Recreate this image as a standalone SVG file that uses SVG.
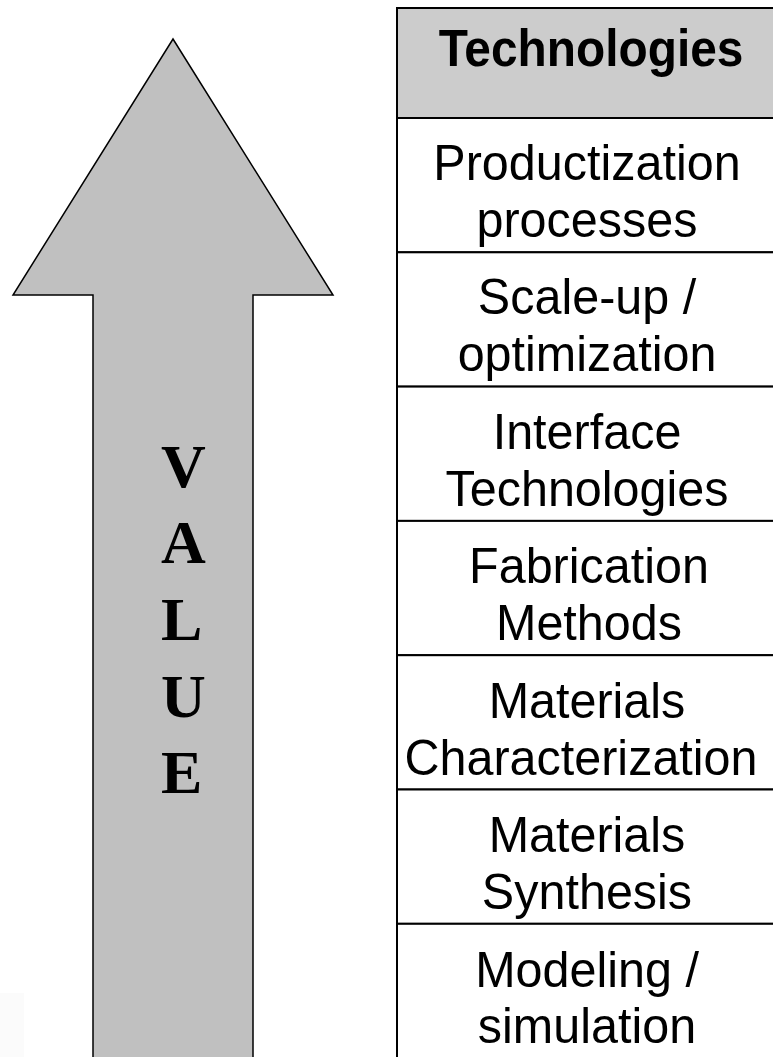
<svg xmlns="http://www.w3.org/2000/svg" width="773" height="1057" viewBox="0 0 773 1057">
  <style>
    .cell { fill: #ffffff; stroke: #000000; stroke-width: 2; }
    .head { fill: #cccccc; stroke: #000000; stroke-width: 2; }
    .lbl { font-family: "Liberation Sans", Arial, sans-serif; font-size: 50px; fill: #000000; text-anchor: middle; }
    .hdr { font-family: "Liberation Sans", Arial, sans-serif; font-size: 52px; font-weight: bold; fill: #000000; text-anchor: middle; }
    .val { font-family: "Liberation Serif", "Times New Roman", serif; font-size: 62px; font-weight: bold; fill: #000000; }
  </style>

  <rect width="773" height="1057" fill="#ffffff"/>
  <!-- faint patch in the lower-left corner -->
  <rect x="0" y="993" width="24" height="64" fill="#fbfbfb"/>

  <!-- upward VALUE arrow -->
  <g id="value-arrow">
    <polygon points="173,39 333,295 253,295 253,1062 93,1062 93,295 13,295" fill="#c0c0c0" stroke="#000000" stroke-width="1.5" stroke-linejoin="miter"/>
    <text class="val" x="161" y="487">V</text>
    <text class="val" x="161" y="563">A</text>
    <text class="val" x="161" y="640">L</text>
    <text class="val" x="161" y="717">U</text>
    <text class="val" x="161" y="793">E</text>
  </g>

  <!-- technology stack table; labels are narrowed slightly -->
  <g id="tech-header">
    <rect class="head" x="397" y="8" width="390" height="110"/>
    <text class="hdr" transform="translate(591,66) scale(0.92,1)">Technologies</text>
  </g>
  <g id="tech-productization">
    <rect class="cell" x="397" y="118" width="390" height="134.3"/>
    <text class="lbl" transform="translate(587,180) scale(0.97,1)">Productization</text>
    <text class="lbl" transform="translate(587,237) scale(0.97,1)">processes</text>
  </g>
  <g id="tech-scaleup">
    <rect class="cell" x="397" y="252.3" width="390" height="134.3"/>
    <text class="lbl" transform="translate(587,314) scale(0.97,1)">Scale-up /</text>
    <text class="lbl" transform="translate(587,371) scale(0.97,1)">optimization</text>
  </g>
  <g id="tech-interface">
    <rect class="cell" x="397" y="386.6" width="390" height="134.3"/>
    <text class="lbl" transform="translate(587,449) scale(0.97,1)">Interface</text>
    <text class="lbl" transform="translate(587,506) scale(0.97,1)">Technologies</text>
  </g>
  <g id="tech-fabrication">
    <rect class="cell" x="397" y="520.9" width="390" height="134.3"/>
    <text class="lbl" transform="translate(589,583) scale(0.97,1)">Fabrication</text>
    <text class="lbl" transform="translate(589,640) scale(0.97,1)">Methods</text>
  </g>
  <g id="tech-characterization">
    <rect class="cell" x="397" y="655.2" width="390" height="134.3"/>
    <text class="lbl" transform="translate(587,718) scale(0.97,1)">Materials</text>
    <text class="lbl" transform="translate(581,775) scale(0.97,1)">Characterization</text>
  </g>
  <g id="tech-synthesis">
    <rect class="cell" x="397" y="789.5" width="390" height="134.3"/>
    <text class="lbl" transform="translate(587,852) scale(0.97,1)">Materials</text>
    <text class="lbl" transform="translate(587,909) scale(0.97,1)">Synthesis</text>
  </g>
  <g id="tech-modeling">
    <rect class="cell" x="397" y="923.8" width="390" height="140"/>
    <text class="lbl" transform="translate(587,987) scale(0.97,1)">Modeling /</text>
    <text class="lbl" transform="translate(587,1043) scale(0.97,1)">simulation</text>
  </g>

  <!-- no connectors in this figure -->
  <g id="connectors"/>
</svg>
